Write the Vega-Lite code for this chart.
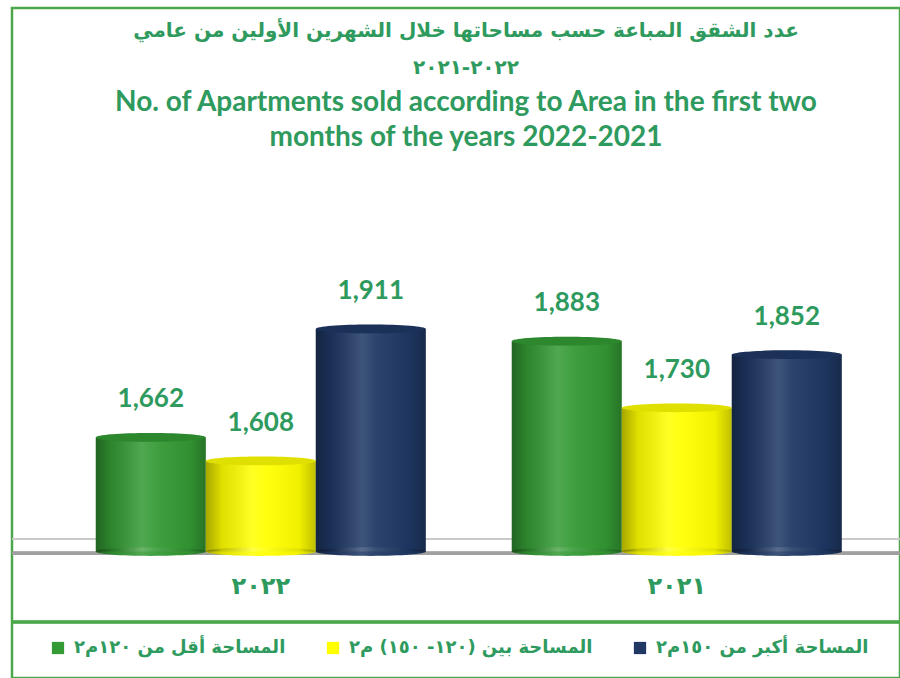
{
  "$schema": "https://vega.github.io/schema/vega-lite/v6.json",
  "width": 888,
  "height": 670,
  "autosize": {"type": "none"},
  "padding": {"left": 12, "top": 8, "right": 0, "bottom": 0},
  "background": "white",
  "config": {
    "view": {"stroke": "#4CA64C", "strokeWidth": 2.5}
  },
  "title": {
    "text": ["عدد الشقق المباعة حسب مساحاتها خلال الشهرين الأولين من عامي", "٢٠٢٢-٢٠٢١"],
    "subtitle": ["No. of Apartments sold according to Area in the first  two", "months of the years 2022-2021"],
    "anchor": "middle",
    "orient": "top",
    "offset": -144,
    "dx": 10,
    "font": "DejaVu Sans",
    "fontSize": 20,
    "fontWeight": "bold",
    "color": "#2E9A5E",
    "lineHeight": 37,
    "subtitleFont": "Lato",
    "subtitleFontSize": 28,
    "subtitleFontWeight": "bold",
    "subtitleColor": "#2E9A5E",
    "subtitleLineHeight": 35,
    "subtitlePadding": 11
  },
  "data": {
    "values": [
      {"year": "٢٠٢٢", "cat": "المساحة أقل من ١٢٠م٢", "value": 1662},
      {"year": "٢٠٢٢", "cat": "المساحة بين (١٢٠- ١٥٠) م٢", "value": 1608},
      {"year": "٢٠٢٢", "cat": "المساحة أكبر من ١٥٠م٢", "value": 1911},
      {"year": "٢٠٢١", "cat": "المساحة أقل من ١٢٠م٢", "value": 1883},
      {"year": "٢٠٢١", "cat": "المساحة بين (١٢٠- ١٥٠) م٢", "value": 1730},
      {"year": "٢٠٢١", "cat": "المساحة أكبر من ١٥٠م٢", "value": 1852}
    ]
  },
  "layer": [
    {
      "mark": {"type": "rule", "color": "#C8C8C8", "strokeWidth": 1.5},
      "encoding": {"y": {"datum": 1429, "type": "quantitative", "scale": {"domain": [1109.9, 2647.6], "zero": false, "nice": false}, "axis": null}}
    },
    {
      "mark": {"type": "rule", "color": "#A0A0A0", "strokeWidth": 3},
      "encoding": {"y": {"datum": 1396, "type": "quantitative"}}
    },
    {
      "mark": {"type": "rule", "color": "#4CA64C", "strokeWidth": 2.5},
      "encoding": {"y": {"datum": 1238.4, "type": "quantitative"}}
    },
    {
      "mark": {"type": "point", "filled": true, "opacity": 1, "size": 12100, "strokeWidth": 0, "shape": "M -1 0 A 1 0.08 0 1 0 1 0 A 1 0.08 0 1 0 -1 0 Z"},
      "encoding": {
        "x": {"field": "year", "type": "nominal", "sort": ["٢٠٢٢", "٢٠٢١"], "scale": {"paddingInner": 0.2067, "paddingOuter": 0.1707, "align": 0.59},
          "axis": {"title": null, "domain": false, "ticks": false, "labelAngle": 0, "labelFont": "DejaVu Sans", "labelFontSize": 24, "labelFontWeight": "bold", "labelColor": "#2E9A5E", "offset": -106, "labelPadding": 2}},
        "xOffset": {"field": "cat", "type": "nominal", "sort": ["المساحة أقل من ١٢٠م٢", "المساحة بين (١٢٠- ١٥٠) م٢", "المساحة أكبر من ١٥٠م٢"], "scale": {"paddingInner": 0, "paddingOuter": 0}},
        "y": {"datum": 1400, "type": "quantitative"},
        "color": {"field": "cat", "type": "nominal", "sort": ["المساحة أقل من ١٢٠م٢", "المساحة بين (١٢٠- ١٥٠) م٢", "المساحة أكبر من ١٥٠م٢"],
          "scale": {"domain": ["المساحة أقل من ١٢٠م٢", "المساحة بين (١٢٠- ١٥٠) م٢", "المساحة أكبر من ١٥٠م٢"], "range": ["#349A34", "#FFFF00", "#1F3864"]},
          "legend": {"title": null, "orient": "none", "legendX": 37, "legendY": 631, "direction": "horizontal", "columns": 3, "symbolType": "square", "symbolSize": 150, "symbolStrokeWidth": 0, "labelFont": "DejaVu Sans", "labelFontSize": 18, "labelFontWeight": "bold", "labelColor": "#2E9A5E", "labelLimit": 400, "columnPadding": 38, "labelOffset": 7, "padding": 0}}
      }
    },
    {
      "mark": {"type": "bar", "width": {"band": 1}},
      "encoding": {
        "x": {"field": "year", "type": "nominal", "sort": ["٢٠٢٢", "٢٠٢١"]},
        "xOffset": {"field": "cat", "type": "nominal", "sort": ["المساحة أقل من ١٢٠م٢", "المساحة بين (١٢٠- ١٥٠) م٢", "المساحة أكبر من ١٥٠م٢"]},
        "y": {"field": "value", "type": "quantitative"},
        "y2": {"datum": 1400},
        "color": {"field": "cat", "type": "nominal", "sort": ["المساحة أقل من ١٢٠م٢", "المساحة بين (١٢٠- ١٥٠) م٢", "المساحة أكبر من ١٥٠م٢"]}
      }
    },
    {
      "mark": {"type": "point", "filled": true, "size": 12100, "strokeWidth": 0, "opacity": 1,
        "shape": "M -1 0 A 1 0.08 0 1 0 1 0 A 1 0.08 0 1 0 -1 0 Z",
        "color": {"gradient": "linear", "x1": 0, "x2": 1, "y1": 0, "y2": 0, "stops": [
          {"offset": 0, "color": "rgba(0,0,0,0.35)"},
          {"offset": 0.15, "color": "rgba(0,0,0,0.12)"},
          {"offset": 0.42, "color": "rgba(255,255,255,0.14)"},
          {"offset": 0.55, "color": "rgba(255,255,255,0.06)"},
          {"offset": 0.85, "color": "rgba(0,0,0,0.06)"},
          {"offset": 1, "color": "rgba(0,0,0,0.25)"}]}},
      "encoding": {
        "x": {"field": "year", "type": "nominal", "sort": ["٢٠٢٢", "٢٠٢١"]},
        "xOffset": {"field": "cat", "type": "nominal", "sort": ["المساحة أقل من ١٢٠م٢", "المساحة بين (١٢٠- ١٥٠) م٢", "المساحة أكبر من ١٥٠م٢"]},
        "y": {"datum": 1400, "type": "quantitative"}
      }
    },
    {
      "mark": {"type": "bar", "width": {"band": 1},
        "color": {"gradient": "linear", "x1": 0, "x2": 1, "y1": 0, "y2": 0, "stops": [
          {"offset": 0, "color": "rgba(0,0,0,0.35)"},
          {"offset": 0.15, "color": "rgba(0,0,0,0.12)"},
          {"offset": 0.42, "color": "rgba(255,255,255,0.14)"},
          {"offset": 0.55, "color": "rgba(255,255,255,0.06)"},
          {"offset": 0.85, "color": "rgba(0,0,0,0.06)"},
          {"offset": 1, "color": "rgba(0,0,0,0.25)"}]}},
      "encoding": {
        "x": {"field": "year", "type": "nominal", "sort": ["٢٠٢٢", "٢٠٢١"]},
        "xOffset": {"field": "cat", "type": "nominal", "sort": ["المساحة أقل من ١٢٠م٢", "المساحة بين (١٢٠- ١٥٠) م٢", "المساحة أكبر من ١٥٠م٢"]},
        "y": {"field": "value", "type": "quantitative"},
        "y2": {"datum": 1400}
      }
    },
    {
      "mark": {"type": "point", "filled": true, "size": 12100, "strokeWidth": 0, "opacity": 1,
        "shape": "M -1 0 A 1 0.08 0 1 0 1 0 A 1 0.08 0 1 0 -1 0 Z"},
      "encoding": {
        "x": {"field": "year", "type": "nominal", "sort": ["٢٠٢٢", "٢٠٢١"]},
        "xOffset": {"field": "cat", "type": "nominal", "sort": ["المساحة أقل من ١٢٠م٢", "المساحة بين (١٢٠- ١٥٠) م٢", "المساحة أكبر من ١٥٠م٢"]},
        "y": {"field": "value", "type": "quantitative"},
        "color": {"field": "cat", "type": "nominal", "sort": ["المساحة أقل من ١٢٠م٢", "المساحة بين (١٢٠- ١٥٠) م٢", "المساحة أكبر من ١٥٠م٢"]}
      }
    },
    {
      "mark": {"type": "point", "filled": true, "size": 12100, "strokeWidth": 0, "opacity": 0.12, "color": "black",
        "shape": "M -1 0 A 1 0.08 0 1 0 1 0 A 1 0.08 0 1 0 -1 0 Z"},
      "encoding": {
        "x": {"field": "year", "type": "nominal", "sort": ["٢٠٢٢", "٢٠٢١"]},
        "xOffset": {"field": "cat", "type": "nominal", "sort": ["المساحة أقل من ١٢٠م٢", "المساحة بين (١٢٠- ١٥٠) م٢", "المساحة أكبر من ١٥٠م٢"]},
        "y": {"field": "value", "type": "quantitative"}
      }
    },
    {
      "mark": {"type": "text", "font": "Lato", "fontSize": 26, "fontWeight": "bold", "color": "#2E9A5E", "baseline": "middle", "dy": -38},
      "encoding": {
        "x": {"field": "year", "type": "nominal", "sort": ["٢٠٢٢", "٢٠٢١"]},
        "xOffset": {"field": "cat", "type": "nominal", "sort": ["المساحة أقل من ١٢٠م٢", "المساحة بين (١٢٠- ١٥٠) م٢", "المساحة أكبر من ١٥٠م٢"]},
        "y": {"field": "value", "type": "quantitative"},
        "text": {"field": "value", "type": "quantitative", "format": ","}
      }
    }
  ]
}
